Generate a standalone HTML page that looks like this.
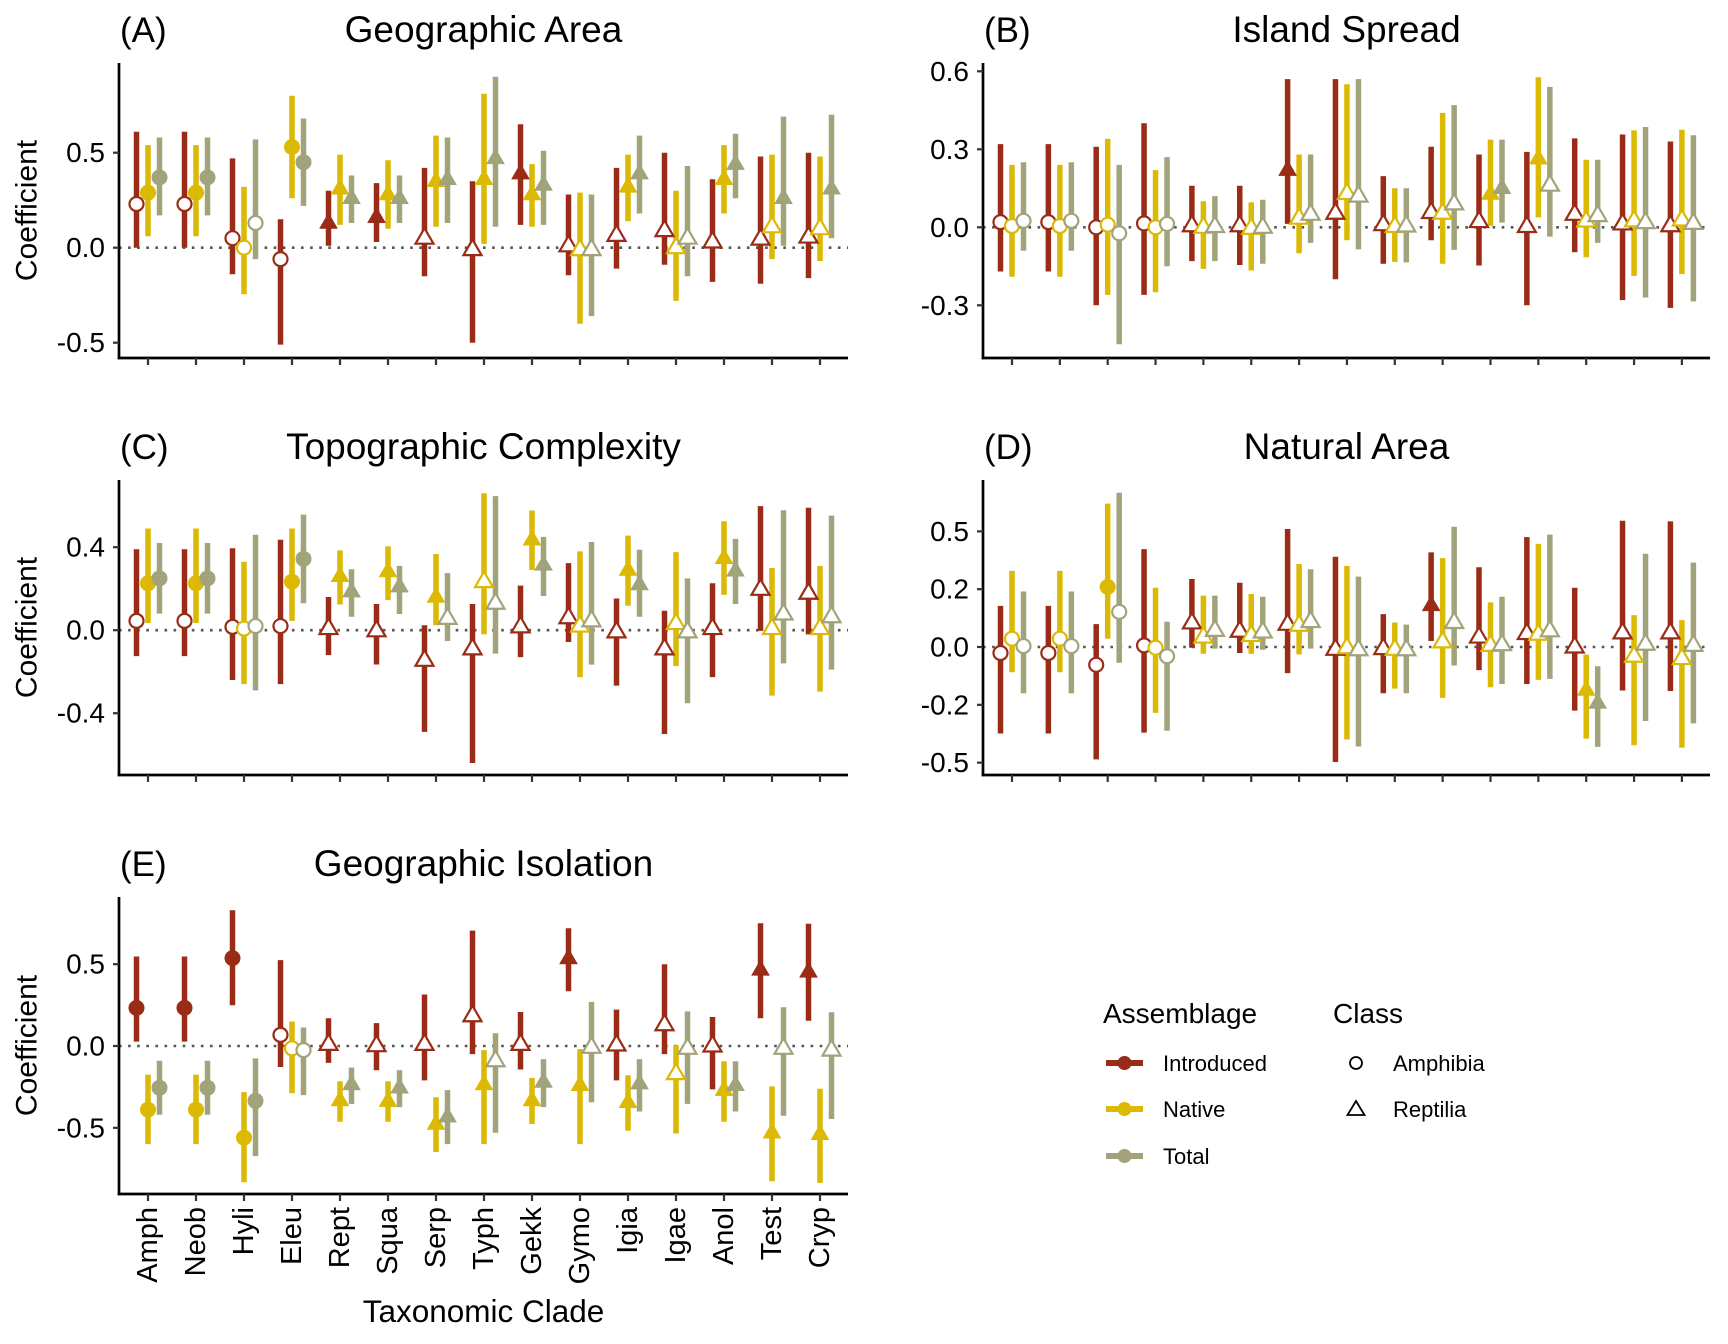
<!DOCTYPE html>
<html><head><meta charset="utf-8">
<style>
html,body{margin:0;padding:0;background:#fff;}
svg{display:block;font-family:"Liberation Sans",Arial,sans-serif;}
</style></head>
<body>
<svg id="chart" xmlns="http://www.w3.org/2000/svg" width="1728" height="1344" viewBox="0 0 1728 1344">
<rect x="0" y="0" width="1728" height="1344" fill="#ffffff"/>
<g id="legend">
  <text x="1103" y="1023" font-size="28" fill="#000">Assemblage</text>
  <g>
    <line x1="1106" y1="1063" x2="1143" y2="1063" stroke="#992b17" stroke-width="6"/>
    <circle cx="1124.5" cy="1063" r="7" fill="#992b17"/>
    <text x="1163" y="1071" font-size="22" fill="#000">Introduced</text>
  </g>
  <g>
    <line x1="1106" y1="1109" x2="1143" y2="1109" stroke="#dcb902" stroke-width="6"/>
    <circle cx="1124.5" cy="1109" r="7" fill="#dcb902"/>
    <text x="1163" y="1117" font-size="22" fill="#000">Native</text>
  </g>
  <g>
    <line x1="1106" y1="1156" x2="1143" y2="1156" stroke="#a2a37b" stroke-width="6"/>
    <circle cx="1124.5" cy="1156" r="7" fill="#a2a37b"/>
    <text x="1163" y="1164" font-size="22" fill="#000">Total</text>
  </g>
  <text x="1333" y="1023" font-size="28" fill="#000">Class</text>
  <g>
    <circle cx="1356" cy="1063" r="6" fill="none" stroke="#000" stroke-width="1.8"/>
    <text x="1393" y="1071" font-size="22" fill="#000">Amphibia</text>
  </g>
  <g>
    <polygon points="1356,1101 1364.5,1115 1347.5,1115" fill="none" stroke="#000" stroke-width="1.8"/>
    <text x="1393" y="1117" font-size="22" fill="#000">Reptilia</text>
  </g>
</g>
</svg>
<script>
const cats = ["Amph","Neob","Hyli","Eleu","Rept","Squa","Serp","Typh","Gekk","Gymo","Igia","Igae","Anol","Test","Cryp"];
const amphibiaCount = 4;

// Panel A: Geographic Area
const aIntroPt = [0.23,0.23,0.05,-0.06,0.13,0.16,0.05,-0.01,0.39,0.01,0.065,0.09,0.03,0.045,0.056];
const aIntroLo = [0,0,-0.14,-0.51,0.01,0.03,-0.15,-0.50,0.12,-0.145,-0.11,-0.09,-0.18,-0.19,-0.16];
const aIntroHi = [0.61,0.61,0.47,0.15,0.30,0.34,0.42,0.35,0.65,0.28,0.42,0.50,0.36,0.48,0.50];
const aNatPt = [0.29,0.29,0.0,0.53,0.31,0.28,0.35,0.36,0.28,-0.01,0.32,0.0,0.36,0.11,0.10];
const aNatLo = [0.06,0.06,-0.245,0.26,0.12,0.10,0.11,0.02,0.11,-0.40,0.14,-0.28,0.18,-0.06,-0.07];
const aNatHi = [0.54,0.54,0.32,0.80,0.49,0.46,0.59,0.81,0.44,0.29,0.49,0.30,0.54,0.49,0.48];
const aTotPt = [0.37,0.37,0.13,0.45,0.26,0.26,0.36,0.47,0.33,-0.01,0.39,0.05,0.44,0.26,0.31];
const aTotLo = [0.17,0.17,-0.06,0.22,0.13,0.13,0.13,0.11,0.12,-0.36,0.18,-0.15,0.26,0.01,0.05];
const aTotHi = [0.58,0.58,0.57,0.68,0.38,0.38,0.58,0.90,0.51,0.28,0.59,0.43,0.60,0.69,0.70];
const aTicks = [-0.5,0,0.5];
const aTickLabels = ["-0.5","0.0","0.5"];

// Panel B: Island Spread
const bIntroPt = [0.02,0.02,0.0,0.015,0.006,0.006,0.22,0.054,0.01,0.057,0.022,0.003,0.05,0.013,0.006];
const bIntroLo = [-0.17,-0.17,-0.30,-0.26,-0.13,-0.145,0.013,-0.20,-0.14,-0.05,-0.147,-0.30,-0.096,-0.28,-0.31];
const bIntroHi = [0.32,0.32,0.31,0.40,0.16,0.16,0.57,0.57,0.197,0.31,0.28,0.29,0.342,0.357,0.33];
const bNatPt = [0.005,0.005,0.01,0.0,0.0,-0.004,0.035,0.13,0.003,0.054,0.128,0.264,0.024,0.025,0.028];
const bNatLo = [-0.19,-0.19,-0.26,-0.25,-0.16,-0.166,-0.10,-0.05,-0.133,-0.14,0.006,0.038,-0.115,-0.187,-0.18];
const bNatHi = [0.24,0.24,0.34,0.22,0.10,0.096,0.28,0.55,0.15,0.44,0.337,0.577,0.26,0.373,0.375];
const bTotPt = [0.025,0.025,-0.023,0.013,0.003,0.0,0.05,0.12,0.005,0.09,0.15,0.162,0.045,0.018,0.015];
const bTotLo = [-0.09,-0.09,-0.45,-0.15,-0.13,-0.14,-0.06,-0.085,-0.135,-0.087,0.018,-0.036,-0.06,-0.27,-0.285];
const bTotHi = [0.25,0.25,0.24,0.27,0.12,0.106,0.28,0.57,0.15,0.47,0.337,0.54,0.26,0.386,0.354];
const bTicks = [-0.3,0,0.3,0.6];
const bTickLabels = ["-0.3","0.0","0.3","0.6"];

// Panel C: Topographic Complexity
const cIntroPt = [0.045,0.045,0.016,0.02,0.008,-0.003,-0.145,-0.09,0.016,0.06,-0.008,-0.09,0.008,0.197,0.178];
const cIntroLo = [-0.125,-0.125,-0.24,-0.26,-0.12,-0.165,-0.49,-0.64,-0.13,-0.057,-0.267,-0.5,-0.226,-0.003,-0.02];
const cIntroHi = [0.39,0.39,0.395,0.436,0.16,0.126,0.024,0.126,0.215,0.323,0.153,0.094,0.226,0.598,0.59];
const cNatPt = [0.226,0.226,0.008,0.234,0.26,0.283,0.16,0.234,0.436,0.02,0.29,0.032,0.347,0.008,0.008];
const cNatLo = [0.035,0.035,-0.26,0.045,0.124,0.145,0.024,-0.02,0.29,-0.226,0.118,-0.173,0.17,-0.315,-0.296];
const cNatHi = [0.49,0.49,0.33,0.49,0.385,0.404,0.367,0.66,0.577,0.38,0.456,0.376,0.525,0.30,0.31];
const cTotPt = [0.25,0.25,0.02,0.344,0.186,0.21,0.057,0.13,0.315,0.045,0.22,-0.008,0.286,0.078,0.065];
const cTotLo = [0.08,0.08,-0.29,0.13,0.065,0.078,-0.052,-0.113,0.165,-0.166,0.065,-0.352,0.126,-0.16,-0.19];
const cTotHi = [0.42,0.42,0.46,0.557,0.294,0.31,0.275,0.646,0.45,0.425,0.388,0.25,0.44,0.578,0.552];
const cTicks = [-0.4,0,0.4];
const cTickLabels = ["-0.4","0.0","0.4"];

// Panel D: Natural Area
const dIntroPt = [-0.026,-0.026,-0.077,0.007,0.104,0.068,0.098,-0.01,-0.007,0.18,0.043,0.058,0.0,0.061,0.061];
const dIntroLo = [-0.374,-0.374,-0.486,-0.37,-0.003,-0.026,-0.113,-0.497,-0.2,0.026,-0.1,-0.16,-0.275,-0.188,-0.19];
const dIntroHi = [0.178,0.178,0.099,0.423,0.294,0.278,0.51,0.39,0.142,0.409,0.345,0.475,0.256,0.546,0.543];
const dNatPt = [0.036,0.036,0.26,-0.003,0.043,0.05,0.094,-0.003,-0.01,0.022,0.007,0.055,-0.186,-0.04,-0.05];
const dNatLo = [-0.109,-0.109,0.036,-0.285,-0.029,-0.029,-0.032,-0.4,-0.18,-0.22,-0.174,-0.142,-0.396,-0.425,-0.435];
const dNatHi = [0.329,0.329,0.62,0.256,0.222,0.229,0.359,0.35,0.106,0.384,0.193,0.446,-0.033,0.138,0.116];
const dTotPt = [0.004,0.004,0.152,-0.04,0.072,0.065,0.11,-0.012,-0.012,0.106,0.01,0.07,-0.242,0.012,0.007];
const dTotLo = [-0.2,-0.2,-0.068,-0.362,-0.007,-0.012,-0.007,-0.43,-0.2,-0.08,-0.16,-0.138,-0.432,-0.32,-0.33];
const dTotHi = [0.24,0.24,0.667,0.109,0.222,0.217,0.336,0.304,0.097,0.52,0.217,0.486,-0.083,0.403,0.365];
const dTicks = [-0.5,-0.25,0,0.25,0.5];
const dTickLabels = ["-0.5","-0.2","0.0","0.2","0.5"];

// Panel E: Geographic Isolation
const eIntroPt = [0.233,0.233,0.537,0.068,0.01,0.002,0.01,0.185,0.01,0.535,0.006,0.13,0.0,0.465,0.453];
const eIntroLo = [0.027,0.027,0.249,-0.128,-0.103,-0.148,-0.21,-0.05,-0.144,0.335,-0.21,-0.05,-0.265,0.17,0.154];
const eIntroHi = [0.547,0.547,0.83,0.525,0.17,0.14,0.315,0.705,0.208,0.72,0.222,0.5,0.177,0.75,0.747];
const eNatPt = [-0.389,-0.389,-0.56,-0.014,-0.333,-0.337,-0.477,-0.235,-0.333,-0.24,-0.344,-0.169,-0.27,-0.53,-0.539];
const eNatLo = [-0.6,-0.6,-0.833,-0.288,-0.463,-0.463,-0.648,-0.6,-0.477,-0.6,-0.518,-0.535,-0.463,-0.827,-0.837];
const eNatHi = [-0.175,-0.175,-0.282,0.15,-0.216,-0.216,-0.313,-0.025,-0.195,-0.018,-0.179,0.005,-0.093,-0.247,-0.261];
const eTotPt = [-0.255,-0.255,-0.335,-0.025,-0.235,-0.255,-0.432,-0.09,-0.22,-0.008,-0.23,-0.014,-0.24,-0.014,-0.025];
const eTotLo = [-0.42,-0.42,-0.673,-0.30,-0.354,-0.374,-0.6,-0.53,-0.374,-0.344,-0.4,-0.354,-0.4,-0.426,-0.446];
const eTotHi = [-0.09,-0.09,-0.076,0.113,-0.132,-0.148,-0.27,0.078,-0.08,0.27,-0.08,0.212,-0.093,0.237,0.206];
const eTicks = [-0.5,0,0.5];
const eTickLabels = ["-0.5","0.0","0.5"];

const NS = "http://www.w3.org/2000/svg";
const svg = document.getElementById("chart");
const COLORS = {intro:"#992b17", nat:"#dcb902", tot:"#a2a37b"};

function mk(tag, attrs, parent){
  const el = document.createElementNS(NS, tag);
  for (const k in attrs) el.setAttribute(k, attrs[k]);
  (parent || svg).appendChild(el);
  return el;
}

const panels = [
  {id:"a", letter:"(A)", title:"Geographic Area", left:119, right:848, top:63, bottom:358, y0:247.7, k:190, x0:148, step:48,
   ticks:aTicks, labels:aTickLabels, series:[["intro",aIntroPt,aIntroLo,aIntroHi],["nat",aNatPt,aNatLo,aNatHi],["tot",aTotPt,aTotLo,aTotHi]], yTitle:true, xLabels:false},
  {id:"b", letter:"(B)", title:"Island Spread", left:983, right:1710, top:63, bottom:358, y0:227.3, k:260, x0:1012, step:47.85,
   ticks:bTicks, labels:bTickLabels, series:[["intro",bIntroPt,bIntroLo,bIntroHi],["nat",bNatPt,bNatLo,bNatHi],["tot",bTotPt,bTotLo,bTotHi]], yTitle:false, xLabels:false},
  {id:"c", letter:"(C)", title:"Topographic Complexity", left:119, right:848, top:480, bottom:775, y0:630.2, k:207.5, x0:148, step:48,
   ticks:cTicks, labels:cTickLabels, series:[["intro",cIntroPt,cIntroLo,cIntroHi],["nat",cNatPt,cNatLo,cNatHi],["tot",cTotPt,cTotLo,cTotHi]], yTitle:true, xLabels:false},
  {id:"d", letter:"(D)", title:"Natural Area", left:983, right:1710, top:480, bottom:775, y0:647, k:231.3, x0:1012, step:47.85,
   ticks:dTicks, labels:dTickLabels, series:[["intro",dIntroPt,dIntroLo,dIntroHi],["nat",dNatPt,dNatLo,dNatHi],["tot",dTotPt,dTotLo,dTotHi]], yTitle:false, xLabels:false},
  {id:"e", letter:"(E)", title:"Geographic Isolation", left:119, right:848, top:897, bottom:1194, y0:1046, k:163.6, x0:148, step:48,
   ticks:eTicks, labels:eTickLabels, series:[["intro",eIntroPt,eIntroLo,eIntroHi],["nat",eNatPt,eNatLo,eNatHi],["tot",eTotPt,eTotLo,eTotHi]], yTitle:true, xLabels:true}
];
const dodge = {intro:-11.5, nat:0, tot:11.5};
const seriesNames = {intro:"introduced", nat:"native", tot:"total"};

panels.forEach(p => {
  const yS = v => p.y0 - v * p.k;
  const xS = i => p.x0 + i * p.step;
  const g = mk("g", {});
  
  

  const lt = mk("text", {x:p.left + 1, y:p.top - 21, "font-size":35, fill:"#000"}, g);
  lt.textContent = p.letter;
  
  

  const tt = mk("text", {x:(p.left + p.right)/2, y:p.top - 21, "font-size":37, fill:"#000", "text-anchor":"middle"}, g);
  tt.textContent = p.title;
  
  

  const zl = mk("line", {x1:p.left, x2:p.right, y1:yS(0), y2:yS(0), stroke:"#555", "stroke-width":2.6, "stroke-dasharray":"2.6 6.5"}, g);
  
  

  p.series.forEach(s => {
    const [key, pt, lo, hi] = s;
    cats.forEach((c, i) => {
      const x = xS(i) + dodge[key];
      const ln = mk("line", {x1:x, x2:x, y1:yS(lo[i]), y2:yS(hi[i]), stroke:COLORS[key], "stroke-width":5.5}, g);
      
      
    });
  });
  p.series.forEach(s => {
    const [key, pt, lo, hi] = s;
    cats.forEach((c, i) => {
      const x = xS(i) + dodge[key];
      const y = yS(pt[i]);
      const sig = lo[i] > 0 || hi[i] < 0;
      const fill = sig ? COLORS[key] : "#ffffff";
      let m;
      if (i < amphibiaCount) {
        m = mk("circle", {cx:x, cy:y, r:sig ? 8 : 7, fill:fill, stroke:COLORS[key], "stroke-width":sig ? 0 : 2.2}, g);
      } else {
        m = mk("polygon", {points:`${x},${y-10} ${x+9},${y+5.5} ${x-9},${y+5.5}`, fill:fill, stroke:COLORS[key], "stroke-width":sig ? 0.5 : 2.2, "stroke-linejoin":"miter"}, g);
      }
      
      
    });
  });

  const ya = mk("line", {x1:p.left, x2:p.left, y1:p.top, y2:p.bottom + 1.3, stroke:"#000", "stroke-width":2.7}, g);
  
  
  const xa = mk("line", {x1:p.left - 1.3, x2:p.right, y1:p.bottom, y2:p.bottom, stroke:"#000", "stroke-width":2.7}, g);
  
  

  p.ticks.forEach((t, j) => {
    const y = yS(t);
    const tk = mk("line", {x1:p.left - 6, x2:p.left, y1:y, y2:y, stroke:"#333", "stroke-width":2.2}, g);
    
    
    const tl = mk("text", {x:p.left - 14, y:y, "font-size":28, fill:"#000", "text-anchor":"end", "dominant-baseline":"central"}, g);
    tl.textContent = p.labels[j];
    
    
  });
  cats.forEach((c, i) => {
    const x = xS(i);
    const tk = mk("line", {x1:x, x2:x, y1:p.bottom, y2:p.bottom + 7, stroke:"#333", "stroke-width":2.2}, g);
    
    
    if (p.xLabels) {
      const xl = mk("text", {x:0, y:0, "font-size":29, fill:"#000", "text-anchor":"end", "dominant-baseline":"central", transform:`translate(${x},${p.bottom + 13}) rotate(-90)`}, g);
      xl.textContent = c;
      
      
    }
  });
  if (p.yTitle) {
    const cy = (p.top + p.bottom) / 2;
    const yt = mk("text", {x:0, y:0, "font-size":30, fill:"#000", "text-anchor":"middle", "dominant-baseline":"central", transform:`translate(27,${cy}) rotate(-90)`}, g);
    yt.textContent = "Coefficient";
    
    
  }
  if (p.xLabels) {
    const xt = mk("text", {x:(p.left + p.right)/2, y:1322, "font-size":31.5, fill:"#000", "text-anchor":"middle"}, g);
    xt.textContent = "Taxonomic Clade";
    
    
  }
});
</script>
</body></html>
